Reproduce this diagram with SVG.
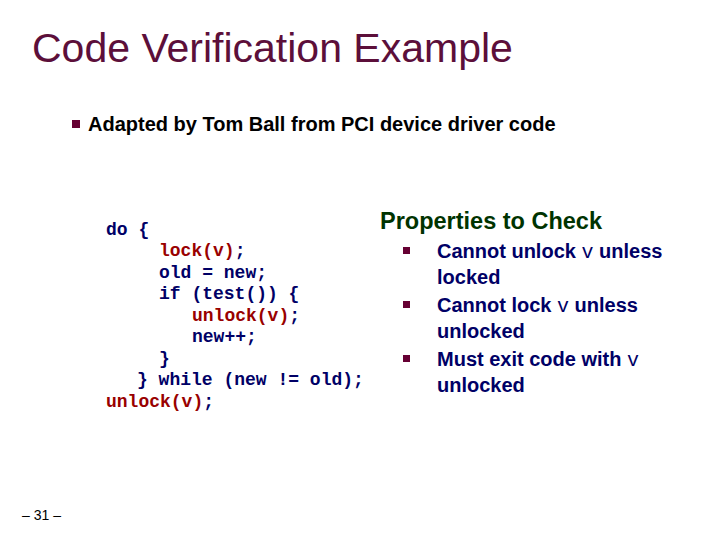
<svg xmlns="http://www.w3.org/2000/svg" width="719" height="539" viewBox="0 0 719 539">
<style>
.c{font-family:"Liberation Mono",monospace;font-weight:bold;font-size:18px;fill:#000066}
.r{fill:#990000}
.p{font-family:"Liberation Sans",Arial,sans-serif;font-weight:bold;font-size:20px;fill:#000066}
.v{font-family:"Liberation Mono",monospace;font-weight:normal}
.b{fill:#660033}
</style>
<rect width="719" height="539" fill="#fff"/>
<text x="32" y="62" font-family="Liberation Sans,Arial,sans-serif" font-size="41" fill="#5c0f3a">Code Verification Example</text>
<rect class="b" x="72" y="120" width="8" height="8"/>
<text x="88" y="131" font-family="Liberation Sans,Arial,sans-serif" font-weight="bold" font-size="20" fill="#000">Adapted by Tom Ball from PCI device driver code</text>
<g id="code">
<text class="c" x="106" y="235">do {</text>
<text class="c r" x="159" y="256">lock(v)<tspan fill="#000066">;</tspan></text>
<text class="c" x="159" y="278">old = new;</text>
<text class="c" x="159" y="299">if (test()) {</text>
<text class="c r" x="192" y="321">unlock(v)<tspan fill="#000066">;</tspan></text>
<text class="c" x="192" y="342">new++;</text>
<text class="c" x="159" y="364">}</text>
<text class="c" x="137" y="385">} while (new != old);</text>
<text class="c r" x="106" y="407">unlock(v)<tspan fill="#000066">;</tspan></text>
</g>
<g id="props">
<text x="380" y="229" font-family="Liberation Sans,Arial,sans-serif" font-weight="bold" font-size="23.5" fill="#003300">Properties to Check</text>
<rect class="b" x="403" y="247" width="7" height="7"/>
<rect class="b" x="403" y="301" width="7" height="7"/>
<rect class="b" x="403" y="355" width="7" height="7"/>
<text class="p" x="437" y="258">Cannot unlock <tspan class="v">v</tspan> unless</text>
<text class="p" x="437" y="284">locked</text>
<text class="p" x="437" y="312">Cannot lock <tspan class="v">v</tspan> unless</text>
<text class="p" x="437" y="338">unlocked</text>
<text class="p" x="437" y="366">Must exit code with <tspan class="v">v</tspan></text>
<text class="p" x="437" y="392">unlocked</text>
</g>
<text x="22" y="520" font-family="Liberation Sans,Arial,sans-serif" font-size="14" fill="#000">– 31 –</text>
</svg>
